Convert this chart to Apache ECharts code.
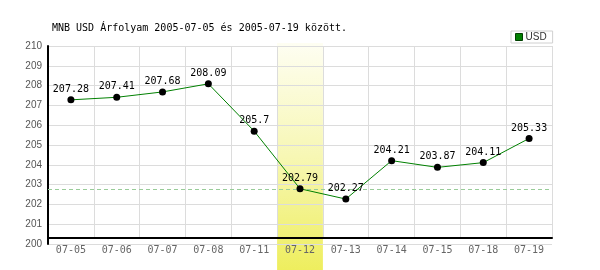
<!DOCTYPE html>
<html><head><meta charset="utf-8">
<script src="https://cdn.jsdelivr.net/npm/echarts@6/dist/echarts.min.js"></script>
<style>html,body{margin:0;padding:0;background:#fff}#c{width:600px;height:270px}</style>
</head><body><div id="c"></div>
<script>
const titleText = 'MNB USD Árfolyam 2005-07-05 és 2005-07-19 között.';
const seriesName = 'USD';
const categories = ['07-05','07-06','07-07','07-08','07-11','07-12','07-13','07-14','07-15','07-18','07-19'];
const usdValues = [207.28, 207.41, 207.68, 208.09, 205.7, 202.79, 202.27, 204.21, 203.87, 204.11, 205.33];
const highlightCategory = '07-12';
const yMin = 200, yMax = 210, yStep = 1;

const hiIdx = categories.indexOf(highlightCategory);
const bandData = categories.map((c, i) => i === hiIdx ? 1 : null);
const refValue = usdValues[hiIdx];
const mono = 'DejaVu Sans Mono';
const sans = 'Liberation Sans';
const gridColor = '#dcdcdc';

const chart = echarts.init(document.getElementById('c'), null, {renderer: 'canvas'});
chart.setOption({
  animation: false,
  title: {
    text: titleText, left: 52, top: 22, padding: 0,
    textStyle: {fontFamily: mono, fontSize: 10, fontWeight: 'normal', color: '#000', lineHeight: 12}
  },
  legend: {
    left: 511, top: 31, padding: [0, 6, 0, 4],
    borderColor: '#d0d0d0', borderWidth: 1,
    itemWidth: 7, itemHeight: 7,
    data: [{name: seriesName, icon: 'rect', itemStyle: {color: '#008000', borderColor: '#004000', borderWidth: 1}}],
    textStyle: {fontFamily: sans, fontSize: 10, color: '#333', lineHeight: 12, padding: [0, 0, 0, -2]}
  },
  grid: [
    {left: 48, right: 48, top: 46, bottom: 26},
    {left: 48, right: 48, top: 46, bottom: 32},
    {left: 48, right: 48, top: 43, bottom: 0}
  ],
  xAxis: [
    {gridIndex: 0, type: 'category', data: categories, boundaryGap: true,
     axisLine: {show: false}, axisTick: {show: false}, splitLine: {show: false},
     axisLabel: {fontFamily: mono, fontSize: 10, color: '#666', margin: 0, lineHeight: 12}},
    {gridIndex: 1, type: 'category', data: categories, boundaryGap: true,
     axisLine: {show: true, lineStyle: {color: '#000', width: 2}}, axisTick: {show: false},
     axisLabel: {show: false},
     splitLine: {show: true, lineStyle: {color: gridColor, width: 1}}},
    {gridIndex: 2, type: 'category', data: categories, boundaryGap: true, show: false}
  ],
  yAxis: [
    {gridIndex: 0, type: 'value', min: yMin, max: yMax, interval: yStep, z: 1,
     axisLine: {show: true, onZero: false, lineStyle: {color: '#000', width: 2}}, axisTick: {show: false},
     axisLabel: {fontFamily: sans, fontSize: 10, color: '#555', margin: 6},
     splitLine: {show: true, lineStyle: {color: gridColor, width: 1}}},
    {gridIndex: 1, type: 'value', min: 0, max: 1, show: false},
    {gridIndex: 2, type: 'value', min: 0, max: 1, show: false}
  ],
  series: [
    {type: 'bar', xAxisIndex: 2, yAxisIndex: 2, data: bandData, barWidth: '100%', z: -1, silent: true,
     itemStyle: {color: new echarts.graphic.LinearGradient(0, 0, 0, 1, [
       {offset: 0, color: '#fefef2'}, {offset: 0.5, color: '#f7f7b4'}, {offset: 1, color: '#eeee5e'}])}},
    {name: seriesName, type: 'line', xAxisIndex: 0, yAxisIndex: 0, data: usdValues, z: 5,
     symbol: 'circle', symbolSize: 7,
     itemStyle: {color: '#000'},
     lineStyle: {color: '#008000', width: 1},
     label: {show: true, position: 'top', distance: 1, fontFamily: mono, fontSize: 10, color: '#000', lineHeight: 12},
     markLine: {silent: true, symbol: ['none', 'none'], label: {show: false},
       lineStyle: {color: '#99cc99', type: [4, 3], width: 1},
       data: [{yAxis: refValue}]}
    }
  ]
});
</script></body></html>
